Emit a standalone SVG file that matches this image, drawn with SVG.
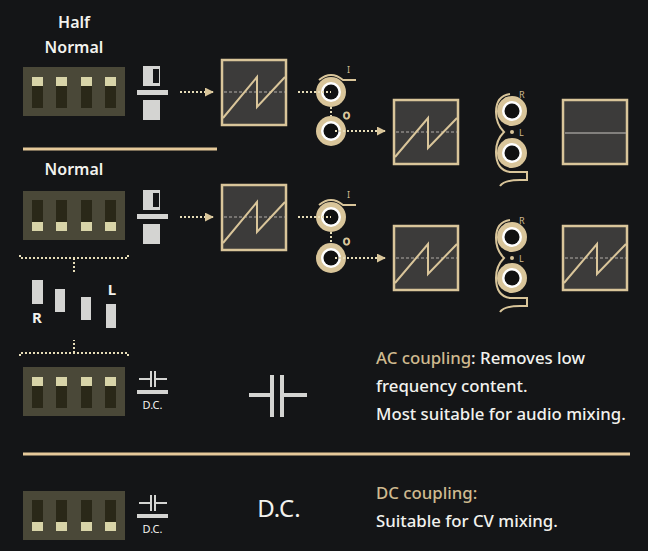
<svg xmlns="http://www.w3.org/2000/svg" width="648" height="551" viewBox="0 0 648 551">
<defs>
<style>
text{font-family:"Noto Sans","Liberation Sans",sans-serif;fill:#f2f2ee}
.t{font-size:16.8px;font-weight:500}
.g{fill:#cfba8f}
.blk{fill:#4a4838}
.sw{fill:#2a2818}
.lit{fill:#d8d4a8}
.ic{fill:#d4d4d2}
.scope{fill:#3c3b3a;stroke:#d9c59a;stroke-width:2.5}
.saw{fill:none;stroke:#d9c59a;stroke-width:2}
.mid{stroke:#8a8884;stroke-width:1.5;stroke-dasharray:3 2}
.dot{stroke:#e6dcb8;stroke-width:2;stroke-dasharray:2 2;fill:none}
.sep{stroke:#e5c99a;stroke-width:3}
</style>
<g id="jack"><circle r="15" fill="#d9c59a"/><circle r="10" fill="#fff"/><circle r="7.5" fill="#111"/></g>
<g id="swUp"><rect x="0" y="0" width="102" height="49" class="blk"/>
<g class="sw"><rect x="9" y="10" width="11" height="31"/><rect x="33" y="10" width="11" height="31"/><rect x="58" y="10" width="11" height="31"/><rect x="82" y="10" width="11" height="31"/></g>
<g class="lit"><rect x="9" y="10" width="11" height="9"/><rect x="33" y="10" width="11" height="9"/><rect x="58" y="10" width="11" height="9"/><rect x="82" y="10" width="11" height="9"/></g></g>
<g id="swDown"><rect x="0" y="0" width="102" height="49" class="blk"/>
<g class="sw"><rect x="9" y="9" width="11" height="31"/><rect x="33" y="9" width="11" height="31"/><rect x="58" y="9" width="11" height="31"/><rect x="82" y="9" width="11" height="31"/></g>
<g class="lit"><rect x="9" y="31" width="11" height="9"/><rect x="33" y="31" width="11" height="9"/><rect x="58" y="31" width="11" height="9"/><rect x="82" y="31" width="11" height="9"/></g></g>
<g id="halfIcon"><rect x="6" y="0" width="17" height="20" class="ic"/><rect x="16" y="3" width="6" height="14" fill="#141517"/><rect x="0" y="24" width="31" height="5" class="ic"/><rect x="6" y="34" width="17" height="20" class="ic"/></g>
<g id="capIcon"><path d="M2 9H14M18 9H30M14 1V17M18 1V17" stroke="#d4d4d2" stroke-width="2" fill="none"/><rect x="0" y="20" width="31" height="4" class="ic"/><text x="15.5" y="39" text-anchor="middle" font-size="11">D.C.</text></g>
<marker id="ar" viewBox="0 0 10 10" refX="9" refY="5" markerWidth="4.5" markerHeight="4.5" orient="auto"><path d="M0 0L10 5L0 10z" fill="#d9c59a"/></marker>
</defs>
<rect width="648" height="551" fill="#141517"/>

<g id="row1">
<text x="74" y="28" text-anchor="middle" font-size="16" font-weight="600">Half</text>
<text x="74" y="53" text-anchor="middle" font-size="16" font-weight="600">Normal</text>
<use href="#swUp" x="23" y="67"/>
<use href="#halfIcon" x="137" y="66"/>
</g>
<g id="scope1a"><rect x="222" y="60" width="64" height="65" class="scope"/><line x1="224" y1="92" x2="285" y2="92" class="mid"/><path d="M223 118L257 77V107L285 77" class="saw"/></g>
<g id="jacks1"><path d="M319 80Q331 70 343 80H356" class="saw" stroke-width="1.5"/><text x="347" y="73" font-size="9" class="g">I</text><text x="343" y="119" font-size="9" fill="none" stroke="#d9c59a" stroke-width="1">O</text>
<use href="#jack" x="331" y="92"/><use href="#jack" x="331" y="131"/></g>
<g id="scope1b"><rect x="394" y="100" width="64" height="64" class="scope"/><line x1="396" y1="132" x2="457" y2="132" class="mid"/><path d="M395 157L428 118V148L457 118" class="saw"/></g>
<g id="stereo1"><path d="M510 94Q496 96 496 112Q496 124 504 132Q496 140 496 152Q496 170 510 172H527V180H520Q504 180 500 186" class="saw" stroke-width="1.5"/><text x="519" y="98" font-size="9" class="g">R</text><text x="519" y="136" font-size="9" class="g">L</text><circle cx="512" cy="132" r="2" fill="#d9c59a"/><use href="#jack" x="512" y="111"/><use href="#jack" x="512" y="153"/></g>
<g id="scope1c"><rect x="563" y="100" width="64" height="64" class="scope"/><line x1="565" y1="133" x2="626" y2="133" stroke="#9a9894" stroke-width="1.5"/></g>

<line x1="23" y1="149" x2="217" y2="149" class="sep"/>

<g id="row2">
<text x="74" y="175" text-anchor="middle" font-size="16" font-weight="600">Normal</text>
<use href="#swDown" x="23" y="191"/>
<use href="#halfIcon" x="137" y="190"/>
</g>
<g id="scope2a"><rect x="222" y="185" width="64" height="65" class="scope"/><line x1="224" y1="217" x2="285" y2="217" class="mid"/><path d="M223 243L257 202V232L285 202" class="saw"/></g>
<g id="jacks2"><path d="M319 205Q331 195 343 205H356" class="saw" stroke-width="1.5"/><text x="347" y="198" font-size="9" class="g">I</text><text x="343" y="245" font-size="9" fill="none" stroke="#d9c59a" stroke-width="1">O</text>
<use href="#jack" x="331" y="217"/><use href="#jack" x="331" y="258"/></g>
<g id="scope2b"><rect x="394" y="226" width="64" height="64" class="scope"/><line x1="396" y1="258" x2="457" y2="258" class="mid"/><path d="M395 283L428 244V274L457 244" class="saw"/></g>
<g id="stereo2"><path d="M510 220Q496 222 496 238Q496 250 504 258Q496 266 496 278Q496 296 510 298H527V306H520Q504 306 500 312" class="saw" stroke-width="1.5"/><text x="519" y="224" font-size="9" class="g">R</text><text x="519" y="262" font-size="9" class="g">L</text><circle cx="512" cy="258" r="2" fill="#d9c59a"/><use href="#jack" x="512" y="237"/><use href="#jack" x="512" y="278"/></g>
<g id="scope2c"><rect x="563" y="226" width="64" height="64" class="scope"/><line x1="565" y1="258" x2="626" y2="258" class="mid"/><path d="M564 283L597 244V274L626 244" class="saw"/></g>

<g id="connectors">
<line x1="180" y1="92" x2="213" y2="92" class="dot" marker-end="url(#ar)"/>
<line x1="298" y1="92" x2="331" y2="92" class="dot"/>
<line x1="331" y1="107" x2="331" y2="116" class="dot" stroke="#d9c59a"/>
<line x1="335" y1="131" x2="385" y2="131" class="dot" marker-end="url(#ar)"/>
<line x1="180" y1="217" x2="213" y2="217" class="dot" marker-end="url(#ar)"/>
<line x1="298" y1="217" x2="331" y2="217" class="dot"/>
<line x1="331" y1="232" x2="331" y2="243" class="dot" stroke="#d9c59a"/>
<line x1="335" y1="258" x2="385" y2="258" class="dot" marker-end="url(#ar)"/>
<path d="M20 255V258H128V255M74 258V273" class="dot"/>
<path d="M20 356V353H128V356M74 353V340" class="dot"/>
</g>

<g id="lr">
<rect x="32" y="280" width="11" height="24" class="ic"/><rect x="55" y="289" width="10" height="23" class="ic"/><rect x="81" y="297" width="10" height="23" class="ic"/><rect x="106" y="304" width="10" height="24" class="ic"/>
<text x="37" y="323" text-anchor="middle" font-size="15" font-weight="bold">R</text>
<text x="112" y="295" text-anchor="middle" font-size="15" font-weight="bold">L</text>
</g>

<g id="row3">
<use href="#swUp" x="23" y="367"/>
<use href="#capIcon" x="137" y="370"/>
<path d="M249 395H271M283 395H307M272 375V417M282 375V417" stroke="#d4d4d2" stroke-width="4" fill="none"/>
<text x="376" y="364" class="t"><tspan class="g">AC coupling</tspan>: Removes low</text>
<text x="376" y="392" class="t">frequency content.</text>
<text x="376" y="420" class="t">Most suitable for audio mixing.</text>
</g>

<line x1="23" y1="454" x2="630" y2="454" class="sep"/>

<g id="row4">
<use href="#swDown" x="23" y="491"/>
<use href="#capIcon" x="137" y="494"/>
<text x="279" y="517" text-anchor="middle" font-size="24" fill="#d4d4d2">D.C.</text>
<text x="376" y="499" class="t g">DC coupling:</text>
<text x="376" y="527" class="t">Suitable for CV mixing.</text>
</g>
</svg>
